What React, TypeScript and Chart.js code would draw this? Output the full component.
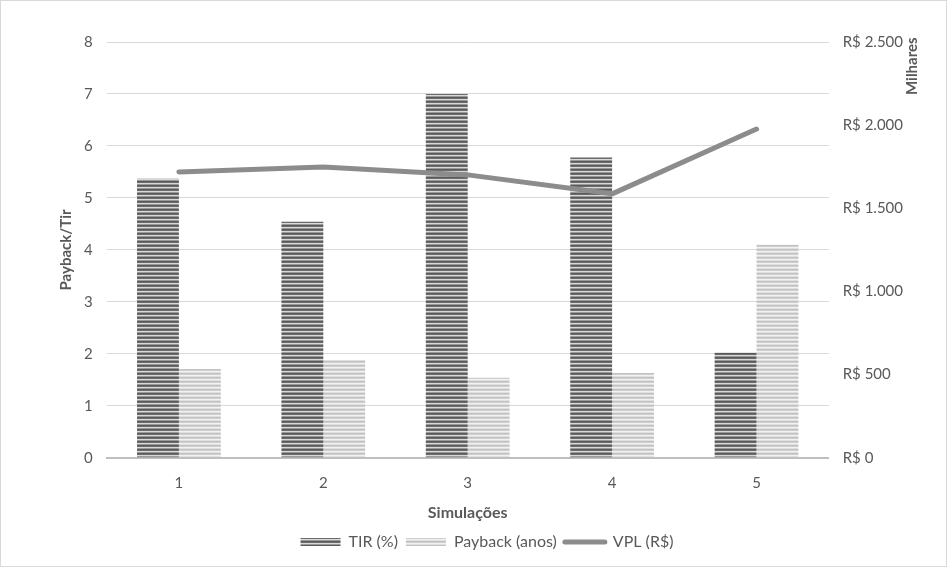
import React, { useEffect, useRef } from 'react';
import { Chart, registerables } from 'chart.js';

Chart.register(...registerables);

// dados
const simulacoes = ['1', '2', '3', '4', '5'];
const tir = [5.37, 4.54, 7.0, 5.78, 2.02];
const payback = [1.71, 1.88, 1.54, 1.63, 4.1];
const vpl = [1719, 1749, 1701, 1587, 1977]; // R$ milhares

const FONT = 'Lato, "Open Sans", sans-serif';
const TEXT = '#595959';

// horizontal stripes like the Excel pattern fill
function stripes(colors: string[]): CanvasPattern | string {
  const c = document.createElement('canvas');
  c.width = 4;
  c.height = colors.length;
  const g = c.getContext('2d');
  if (!g) return colors[0];
  colors.forEach((col, i) => {
    g.fillStyle = col;
    g.fillRect(0, i, 4, 1);
  });
  return g.createPattern(c, 'repeat') || colors[0];
}

const milharesTitle = {
  id: 'milharesTitle',
  afterDraw(chart: Chart) {
    const ctx = chart.ctx;
    const area = chart.chartArea;
    ctx.save();
    ctx.translate(chart.width - 34, area.top + 53);
    ctx.rotate(-Math.PI / 2);
    ctx.font = `bold 15px ${FONT}`;
    ctx.fillStyle = TEXT;
    ctx.textAlign = 'left';
    ctx.textBaseline = 'middle';
    ctx.fillText('Milhares', 0, 0);
    ctx.restore();
  },
};

const App: React.FC = () => {
  const canvasRef = useRef<HTMLCanvasElement>(null);
  const chartRef = useRef<Chart | null>(null);

  useEffect(() => {
    document.body.style.margin = '0';
    if (!canvasRef.current) return;
    if (chartRef.current) chartRef.current.destroy();

    const tirFill = stripes(['#5a5a5a', '#6c6c6c', '#d9d9d9', '#9a9a9a']);
    const paybackFill = stripes(['#c2c2c2', '#cfcfcf', '#f2f2f2', '#e0e0e0']);

    chartRef.current = new Chart(canvasRef.current, {
      type: 'bar',
      data: {
        labels: simulacoes,
        datasets: [
          {
            type: 'bar',
            label: 'TIR (%)',
            data: tir,
            backgroundColor: tirFill as any,
            borderWidth: 0,
            yAxisID: 'y',
            order: 2,
            barPercentage: 1,
            categoryPercentage: 0.58,
          },
          {
            type: 'bar',
            label: 'Payback (anos)',
            data: payback,
            backgroundColor: paybackFill as any,
            borderWidth: 0,
            yAxisID: 'y',
            order: 2,
            barPercentage: 1,
            categoryPercentage: 0.58,
          },
          {
            type: 'line',
            label: 'VPL (R$)',
            data: vpl,
            borderColor: '#8c8c8c',
            backgroundColor: '#8c8c8c',
            borderWidth: 5,
            borderCapStyle: 'round',
            borderJoinStyle: 'round',
            pointRadius: 0,
            yAxisID: 'y1',
            order: 1,
          } as any,
        ],
      },
      options: {
        animation: false,
        responsive: false,
        layout: { padding: { top: 41, right: 29, left: 56, bottom: 6 } },
        plugins: {
          tooltip: { enabled: false },
          legend: {
            position: 'bottom',
            labels: {
              color: TEXT,
              font: { family: FONT, size: 16 },
              usePointStyle: true,
              pointStyleWidth: 40,
              boxHeight: 8,
              padding: 8,
              sort: (a, b) => (a.datasetIndex ?? 0) - (b.datasetIndex ?? 0),
              generateLabels: (chart) => {
                const items = Chart.defaults.plugins.legend.labels.generateLabels(chart);
                return items.map((it) => {
                  if (it.datasetIndex === 2) {
                    return { ...it, pointStyle: 'line', lineWidth: 5, lineCap: 'round', strokeStyle: '#8c8c8c' };
                  }
                  return { ...it, pointStyle: 'rect', lineWidth: 0 };
                });
              },
            },
          },
        },
        scales: {
          x: {
            grid: { display: false },
            border: { display: true, color: '#bfbfbf', width: 2 },
            ticks: { color: TEXT, font: { family: FONT, size: 15 }, padding: 8 },
            title: {
              display: true,
              text: 'Simulações',
              color: TEXT,
              font: { family: FONT, size: 16, weight: 'bold' },
              padding: { top: 3, bottom: 4 },
            },
          },
          y: {
            position: 'left',
            min: 0,
            max: 8,
            grid: { color: '#d9d9d9', drawTicks: false },
            border: { display: false },
            ticks: { stepSize: 1, color: TEXT, font: { family: FONT, size: 15 }, padding: 14 },
            title: {
              display: true,
              text: 'Payback/Tir',
              color: TEXT,
              font: { family: FONT, size: 15, weight: 'bold' },
              padding: { top: 0, bottom: -5 },
            },
          },
          y1: {
            position: 'right',
            min: 0,
            max: 2500,
            grid: { drawOnChartArea: false, drawTicks: false },
            border: { display: false },
            ticks: {
              stepSize: 500,
              color: TEXT,
              font: { family: FONT, size: 15 },
              padding: 14,
              callback: (v) => 'R$ ' + Number(v).toLocaleString('pt-BR'),
            },
          },
        },
      },
      plugins: [milharesTitle],
    });

    return () => {
      if (chartRef.current) {
        chartRef.current.destroy();
        chartRef.current = null;
      }
    };
  }, []);

  return (
    <div style={{ width: 945, height: 565, border: '1px solid #d9d9d9', background: '#fff' }}>
      <canvas ref={canvasRef} width={945} height={565} style={{ display: 'block' }}></canvas>
    </div>
  );
};

export default App;
